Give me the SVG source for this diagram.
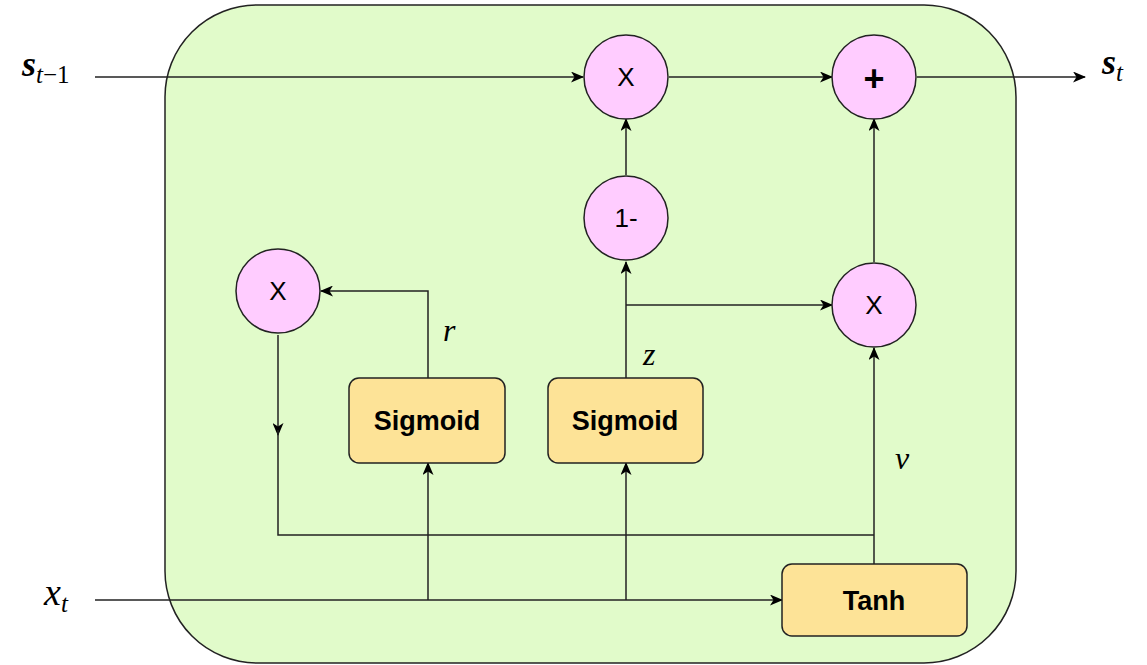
<svg xmlns="http://www.w3.org/2000/svg" width="1147" height="665" viewBox="0 0 1147 665">
<defs>
<marker id="arr" markerWidth="13" markerHeight="11" refX="12" refY="5.5" orient="auto" markerUnits="userSpaceOnUse">
<path d="M0,0 L13,5.5 L0,11 L3.5,5.5 Z" fill="#000"/>
</marker>
<style>
.op{fill:#ffccff;stroke:#222;stroke-width:1.5}
.box{fill:#fde397;stroke:#222;stroke-width:1.5}
.ln{fill:none;stroke:#222;stroke-width:1.5}
.opt{font-family:"Liberation Sans",Arial,sans-serif;font-size:26px;text-anchor:middle;fill:#000}
.bt{font-family:"Liberation Sans",Arial,sans-serif;font-size:27px;font-weight:bold;text-anchor:middle;fill:#000}
.math{font-family:"Liberation Serif","Times New Roman",serif;font-style:italic;fill:#000}
</style>
</defs>
<rect width="1147" height="665" fill="#fff"/>
<rect id="cell" x="165" y="5" width="851" height="658" rx="92" ry="92" fill="#e1fbca" stroke="#222" stroke-width="1.5"/>
<g id="connectors">
<path class="ln" d="M95,77 H583" marker-end="url(#arr)"/>
<path class="ln" d="M669,77 H832" marker-end="url(#arr)"/>
<path class="ln" d="M917,77 H1085" marker-end="url(#arr)"/>
<path class="ln" d="M95,600 H782" marker-end="url(#arr)"/>
<path class="ln" d="M428,600 V463" marker-end="url(#arr)"/>
<path class="ln" d="M626,600 V463" marker-end="url(#arr)"/>
<path class="ln" d="M428,378 V291 H321" marker-end="url(#arr)"/>
<path class="ln" d="M626,378 V262" marker-end="url(#arr)"/>
<path class="ln" d="M626,305 H832" marker-end="url(#arr)"/>
<path class="ln" d="M626,175 V119" marker-end="url(#arr)"/>
<path class="ln" d="M874,262 V119" marker-end="url(#arr)"/>
<path class="ln" d="M874,564 V348" marker-end="url(#arr)"/>
<path class="ln" d="M278,335 V435" marker-end="url(#arr)"/>
<path class="ln" d="M278,430 V535 H874"/>
</g>
<g id="mulTop"><circle class="op" cx="626" cy="77" r="42"/><text class="opt" x="626" y="86">X</text></g>
<g id="plus"><circle class="op" cx="874" cy="77" r="42"/><text class="opt" x="874" y="91" style="font-size:36px;font-weight:bold">+</text></g>
<g id="oneMinus"><circle class="op" cx="626" cy="218" r="42"/><text class="opt" x="626" y="227">1-</text></g>
<g id="mulRight"><circle class="op" cx="874" cy="305" r="42"/><text class="opt" x="874" y="314">X</text></g>
<g id="mulLeft"><circle class="op" cx="278" cy="291" r="42"/><text class="opt" x="278" y="300">X</text></g>
<g id="sigmoidR"><rect class="box" x="349" y="378" width="156" height="85" rx="10"/><text class="bt" x="427" y="430">Sigmoid</text></g>
<g id="sigmoidZ"><rect class="box" x="548" y="378" width="155" height="85" rx="10"/><text class="bt" x="625" y="430">Sigmoid</text></g>
<g id="tanh"><rect class="box" x="782" y="564" width="185" height="72" rx="10"/><text class="bt" x="874" y="610">Tanh</text></g>
<g id="labels">
<text class="math" x="22" y="76" font-size="36" font-weight="bold">s<tspan font-size="25" font-weight="normal" dy="7">t</tspan><tspan font-size="25" font-weight="normal" font-style="normal">−1</tspan></text>
<text class="math" x="1102" y="74" font-size="36" font-weight="bold">s<tspan font-size="25" font-weight="normal" dy="7">t</tspan></text>
<text class="math" x="44" y="605" font-size="38">x<tspan font-size="25" dy="7">t</tspan></text>
<text class="math" x="443" y="341" font-size="32">r</text>
<text class="math" x="643" y="365" font-size="32">z</text>
<text class="math" x="895" y="469" font-size="32">v</text>
</g>
</svg>
